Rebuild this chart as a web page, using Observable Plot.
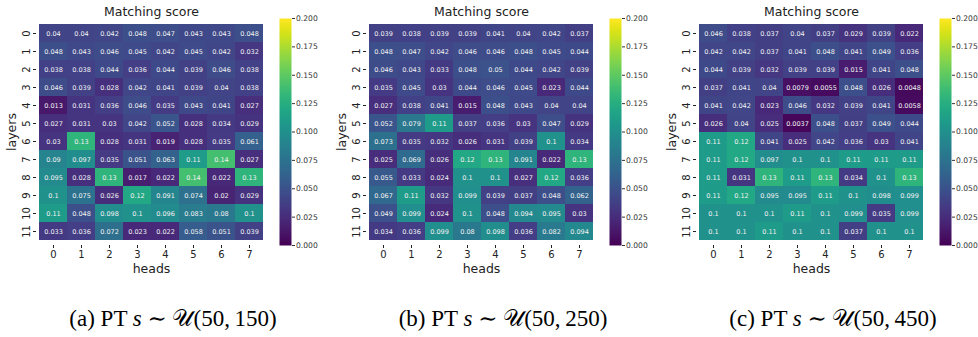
<!DOCTYPE html>
<html>
<head>
<meta charset="utf-8">
<script src="https://cdn.jsdelivr.net/npm/d3@7"></script>
<script src="https://cdn.jsdelivr.net/npm/@observablehq/plot@0.6"></script>
<style>
  html, body { margin: 0; padding: 0; background: #fff; }
  #root { position: relative; width: 978px; height: 337px; overflow: hidden; background: #fff; }
  .abs { position: absolute; }
  .caption { position: absolute; top: 305px; width: 330px; text-align: center;
    font-family: "Liberation Serif", "DejaVu Serif", serif; font-size: 23px; color: #000; white-space: nowrap; }
  .caption i { font-style: italic; }
  svg [aria-label="x-axis label"] text, svg [aria-label="y-axis label"] text { font-size: 12.5px; }
</style>
</head>
<body>
<div id="root"></div>
<script>
const heads = [0, 1, 2, 3, 4, 5, 6, 7];
const layers = [0, 1, 2, 3, 4, 5, 6, 7, 8, 9, 10, 11];
const colorbarTicks = [0, 0.025, 0.05, 0.075, 0.1, 0.125, 0.15, 0.175, 0.2];
const colorDomain = [0, 0.2];

const scoresA = [
  [0.04, 0.04, 0.042, 0.048, 0.047, 0.043, 0.043, 0.048],
  [0.048, 0.043, 0.046, 0.045, 0.042, 0.045, 0.042, 0.032],
  [0.038, 0.038, 0.044, 0.036, 0.044, 0.039, 0.046, 0.038],
  [0.046, 0.039, 0.028, 0.042, 0.041, 0.039, 0.04, 0.038],
  [0.013, 0.031, 0.036, 0.046, 0.035, 0.043, 0.041, 0.027],
  [0.027, 0.031, 0.03, 0.042, 0.052, 0.028, 0.034, 0.029],
  [0.03, 0.13, 0.028, 0.031, 0.019, 0.028, 0.035, 0.061],
  [0.09, 0.097, 0.035, 0.051, 0.063, 0.11, 0.14, 0.027],
  [0.095, 0.028, 0.13, 0.017, 0.022, 0.14, 0.022, 0.13],
  [0.1, 0.075, 0.026, 0.12, 0.091, 0.074, 0.02, 0.029],
  [0.11, 0.048, 0.098, 0.1, 0.096, 0.083, 0.08, 0.1],
  [0.033, 0.036, 0.072, 0.023, 0.022, 0.058, 0.051, 0.039]
];
const scoresB = [
  [0.039, 0.038, 0.039, 0.039, 0.041, 0.04, 0.042, 0.037],
  [0.048, 0.047, 0.042, 0.046, 0.046, 0.048, 0.045, 0.044],
  [0.046, 0.043, 0.033, 0.048, 0.05, 0.044, 0.042, 0.039],
  [0.035, 0.045, 0.03, 0.044, 0.046, 0.045, 0.023, 0.044],
  [0.027, 0.038, 0.041, 0.015, 0.048, 0.043, 0.04, 0.04],
  [0.052, 0.079, 0.11, 0.037, 0.036, 0.03, 0.047, 0.029],
  [0.073, 0.035, 0.032, 0.026, 0.031, 0.039, 0.1, 0.034],
  [0.025, 0.069, 0.026, 0.12, 0.13, 0.091, 0.022, 0.13],
  [0.055, 0.033, 0.024, 0.1, 0.1, 0.027, 0.12, 0.036],
  [0.067, 0.11, 0.032, 0.099, 0.039, 0.037, 0.048, 0.062],
  [0.049, 0.099, 0.024, 0.1, 0.048, 0.094, 0.095, 0.03],
  [0.034, 0.036, 0.099, 0.08, 0.098, 0.036, 0.082, 0.094]
];
const scoresC = [
  [0.046, 0.038, 0.037, 0.04, 0.037, 0.029, 0.039, 0.022],
  [0.042, 0.042, 0.037, 0.041, 0.048, 0.041, 0.049, 0.036],
  [0.044, 0.039, 0.032, 0.039, 0.039, 0.015, 0.041, 0.048],
  [0.037, 0.041, 0.04, 0.0079, 0.0055, 0.048, 0.026, 0.0048],
  [0.041, 0.042, 0.023, 0.046, 0.032, 0.039, 0.041, 0.0058],
  [0.026, 0.04, 0.025, 0.0037, 0.048, 0.037, 0.049, 0.044],
  [0.11, 0.12, 0.041, 0.025, 0.042, 0.036, 0.03, 0.041],
  [0.11, 0.12, 0.097, 0.1, 0.1, 0.11, 0.11, 0.11],
  [0.11, 0.031, 0.13, 0.11, 0.13, 0.034, 0.1, 0.13],
  [0.11, 0.12, 0.095, 0.095, 0.11, 0.1, 0.098, 0.099],
  [0.1, 0.1, 0.1, 0.11, 0.1, 0.099, 0.035, 0.099],
  [0.1, 0.1, 0.11, 0.1, 0.1, 0.037, 0.1, 0.1]
];

const titleText = "Matching score";
const panelLetters = ["(a)", "(b)", "(c)"];
const panelUpper = [150, 250, 450];
const panels = [scoresA, scoresB, scoresC];

const M_TOP = 18, M_BOTTOM = 36, GRID_H = 227;
const H = M_TOP + GRID_H + M_BOTTOM;

function heatmap(scores) {
  const data = layers.flatMap(l => heads.map(h => ({layer: l, head: h, value: scores[l][h]})));
  return Plot.plot({
    width: 270, height: H,
    marginLeft: 36, marginRight: 4, marginTop: M_TOP, marginBottom: M_BOTTOM,
    style: {fontFamily: "DejaVu Sans", fontSize: "10px", color: "#222", background: "transparent"},
    x: {domain: heads, padding: 0, label: "heads", labelAnchor: "center", labelOffset: 27, tickSize: 3, tickPadding: 2, labelArrow: false},
    y: {domain: layers, padding: 0, label: "layers", labelAnchor: "center", labelOffset: 29, tickSize: 3, tickPadding: 4, tickRotate: -90, labelArrow: false},
    color: {type: "linear", scheme: "viridis", domain: colorDomain},
    marks: [
      Plot.cell(data, {x: "head", y: "layer", fill: "value", inset: 0}),
      Plot.text(data, {x: "head", y: "layer", text: d => String(d.value), fill: "#f2f2f2", fontSize: 6.5}),
      Plot.text([titleText], {frameAnchor: "top", dy: -3, fontSize: 12.5, fill: "#222", lineAnchor: "bottom"})
    ]
  });
}

function colorbar() {
  return Plot.plot({
    width: 40, height: H,
    marginLeft: 0, marginRight: 28, marginTop: M_TOP, marginBottom: M_BOTTOM,
    style: {fontFamily: "DejaVu Sans", fontSize: "7.6px", color: "#333", background: "transparent", overflow: "visible"},
    x: {domain: [0, 1], axis: null},
    y: {domain: colorDomain, axis: "right", ticks: colorbarTicks, tickFormat: d3.format(".3f"), tickSize: 3, tickPadding: 1.5, label: null},
    color: {type: "linear", scheme: "viridis", domain: colorDomain},
    marks: [
      Plot.raster({x1: 0, x2: 1, y1: colorDomain[0], y2: colorDomain[1], width: 1, height: 227, fill: (x, y) => y})
    ]
  });
}

const root = document.getElementById("root");
panels.forEach((scores, i) => {
  const left = i * 330;
  const hm = heatmap(scores);
  hm.classList.add("abs");
  hm.style.left = left + "px";
  hm.style.top = "0px";
  root.appendChild(hm);
  const cb = colorbar();
  cb.classList.add("abs");
  cb.style.left = (left + 279) + "px";
  cb.style.top = "0px";
  root.appendChild(cb);
  const cap = document.createElement("div");
  cap.className = "caption";
  cap.style.left = (left + 8) + "px";
  cap.innerHTML = panelLetters[i] + " PT <i>s</i> \u223C \uD835\uDCB0(50,\u2009" + panelUpper[i] + ")";
  root.appendChild(cap);
});
</script>
</body>
</html>
